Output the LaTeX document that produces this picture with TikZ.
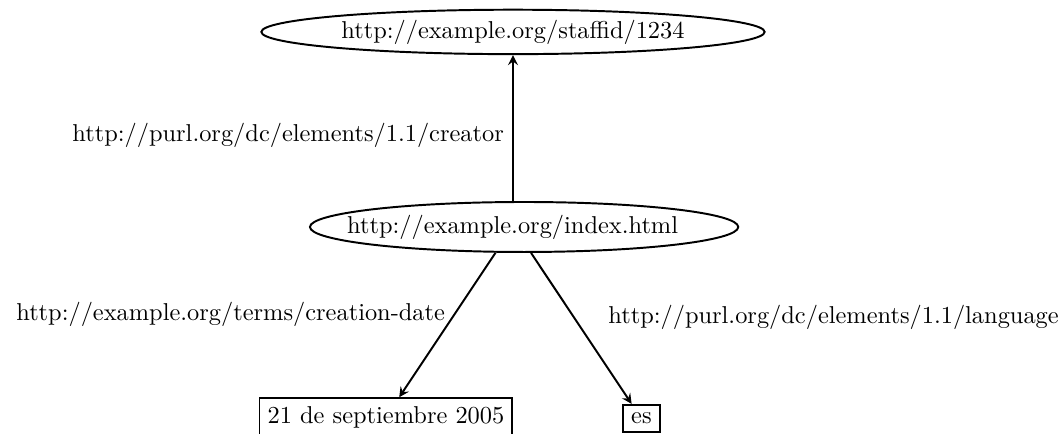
\documentclass[tikz,border=0pt]{standalone}
\usepackage{tikz}
\usetikzlibrary{shapes.geometric}

\begin{document}
\begin{tikzpicture}[>=stealth, thick]
  \tikzset{resource/.style = { draw, ellipse, inner sep = 0pt }}
  \tikzset{literal/.style = { draw, rectangle }}
  \useasboundingbox (0,0) rectangle (15.27,6.24);

  \node[name = staff, resource, minimum width = 7.25cm, minimum height = 0.64cm] at (7.39,5.78) {http://example.org/staffid/1234};

  \node[name = index, resource, minimum width = 6.17cm, minimum height = 0.72cm] at (7.55,2.97) {};
  \node[name = indextxt] at (7.385,2.97) {http://example.org/index.html};

  \node[name = date, literal] at (5.56,0.23) {21 de septiembre 2005};
  \node[name = lang, literal] at (9.24,0.21) {es};

  \draw [->] (index.north -| staff) -- (staff.south) node[pos=0.45, left]{http://purl.org/dc/elements/1.1/creator};
  \draw [->] (index.222) -- (date) node[pos=0.43, left]{http://example.org/terms/creation-date};
  \draw [->] (index.285) -- (lang) node[pos=0.43, right=0.36cm]{http://purl.org/dc/elements/1.1/language};
\end{tikzpicture}
\end{document}
